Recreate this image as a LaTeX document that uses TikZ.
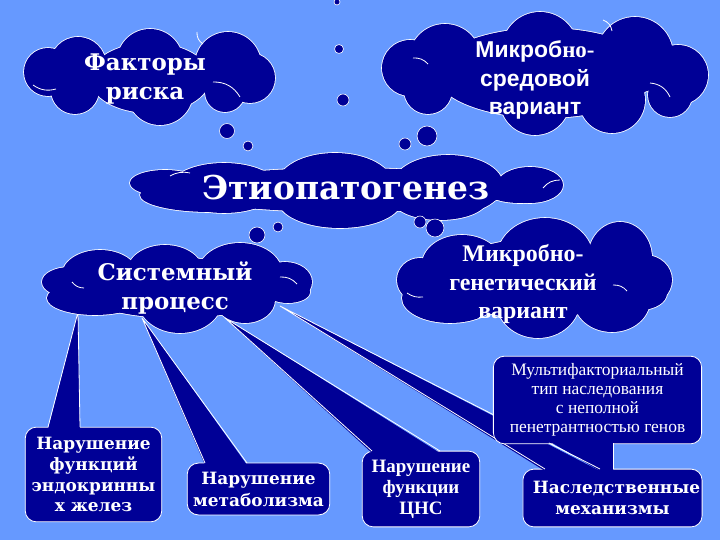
\documentclass[tikz,border=0pt]{standalone}
\usepackage{fontspec}
\setmainfont{Liberation Serif}
\setsansfont{Liberation Sans}
\newfontfamily\slab{DejaVu Serif}
\usetikzlibrary{calc}
\definecolor{bgblue}{RGB}{102,153,255}
\definecolor{navy}{RGB}{0,0,150}
% a cloud as a union of ellipses x/y/rx/ry
\newcommand\blob[1]{%
  \foreach \bx/\by/\ba/\bb in {#1} \draw[white, line width=1.6bp] (\bx,\by) ellipse [x radius=\ba, y radius=\bb];
  \foreach \bx/\by/\ba/\bb in {#1} \fill[navy] (\bx,\by) ellipse [x radius=\ba, y radius=\bb];}

\begin{document}
\begin{tikzpicture}[x=1bp, y=-1bp, line join=round,
  dot/.style={circle, fill=navy, draw=white, line width=0.6bp, inner sep=0pt, minimum size=#1},
  note/.style={fill=navy, draw=white, line width=0.8bp, rounded corners=11bp, inner sep=2bp, text=white, align=center},
  lbl/.style={text=white, align=center},
  edge/.style={white, line width=0.8bp}]
\fill[bgblue] (0,0) rectangle (720,540);
\useasboundingbox (0,0) rectangle (720,540);

% boxes
\node[note, minimum width=137, minimum height=95, font=\slab\bfseries\fontsize{17}{21}\selectfont] (endo) at (93.5,474.5) {Нарушение\\функций\\эндокринны\\х желез};
\node[note, minimum width=143, minimum height=52, font=\slab\bfseries\fontsize{17}{22}\selectfont] (metab) at (258.5,489) {Нарушение\\метаболизма};
\node[note, minimum width=118, minimum height=76, font=\bfseries\fontsize{19}{21}\selectfont] (cns) at (421,489) {Нарушение\\функции\\ЦНС};
\node[note, minimum width=179, minimum height=58, font=\slab\bfseries\fontsize{17}{21}\selectfont] (hered) at (612.5,498) {\hspace*{8bp}Наследственные\\механизмы};

% wedges
\coordinate (t1) at (78,312);  \coordinate (a1) at (48,427);  \coordinate (b1) at (80,427);
\coordinate (t2) at (142,318); \coordinate (a2) at (205,463); \coordinate (b2) at (247,463);
\coordinate (t3) at (225,318); \coordinate (a3) at (372,451); \coordinate (b3) at (440,451);
\coordinate (t4) at (280,306); \coordinate (a4) at (545,469); \coordinate (b4) at (600,469);
\foreach \i in {1,...,4}{
  \fill[navy] (t\i) -- ($(a\i)+(0,2)$) -- ($(b\i)+(0,2)$) -- cycle;
  \draw[edge] (a\i) -- (t\i) -- (b\i);
}

% callout
\node[note, minimum width=209, minimum height=88, font=\fontsize{17.5}{19}\selectfont] (multi) at (597.5,400) {Мультифакториальный\\тип наследования\\с неполной\\пенетрантностью генов};
\coordinate (p1) at ($(t4)!0.84!(b4)$);
\coordinate (p2) at (613,469);
\fill[navy] ($(p1)+(0,-2)$) -- (613,441) -- ($(p2)+(0,2)$) -- ($(b4)+(0,2)$) -- cycle;
\draw[edge] (p1) -- (b4);
\draw[edge] (613,443) -- (p2);

% clouds
\blob{78/65/28/28, 150/62/33/33, 228/65/33/33, 250/78/25/25, 225/92/20/20,
      160/92/33/33, 75/90/24/24, 48/72/24/24, 150/78/60/35}
\blob{445/60/36/36, 540/50/38/38, 635/55/38/38, 678/75/30/30, 670/95/22/22,
      612/100/33/33, 535/100/35/35, 428/90/24/24, 410/68/28/28, 545/73/110/45}
\blob{224/188/54/25, 335/185/58/32, 448/185/55/30, 530/185/33/18, 520/192/33/11,
      440/200/47/20, 340/200/62/28, 210/195/70/17, 165/183/35/13, 345/190/170/22}
\blob{100/275/38/25, 165/272/38/27, 240/273/42/30, 285/282/27/20, 288/292/22/11,
      245/300/30/23, 180/300/42/33, 95/298/48/17, 70/282/28/15, 177/288/100/30}
\blob{462/265/40/30, 545/258/48/40, 620/258/32/36, 645/280/27/25, 640/293/27/17,
      612/300/38/32, 538/300/42/38, 450/298/48/25, 420/280/23/22, 535/279/90/40}

% inner folds of the clouds
\draw[edge] (33,85) to[bend right=25] (56,89);
\draw[edge] (213,82) to[bend left=30] (240,97);
\draw[edge] (197,32) to[bend right=30] (203,44);
\draw[edge] (413,58) to[bend left=25] (428,64);
\draw[edge] (650,83) to[bend left=30] (670,97);
\draw[edge] (603,20) to[bend left=30] (612,31);
\draw[edge] (170,176) to[bend left=20] (190,173);
\draw[edge] (543,188) to[bend left=25] (560,180);
\draw[edge] (72,282) to[bend right=25] (84,288);
\draw[edge] (280,277) to[bend left=25] (297,284);
\draw[edge] (407,293) to[bend right=20] (423,297);
\draw[edge] (613,285) to[bend left=25] (627,291);

% bubbles
\node[dot=6]  (d1)  at (337,2) {};
\node[dot=9]  (d2)  at (339,49) {};
\node[dot=12] (d3)  at (343,100) {};
\node[dot=15] (d4)  at (227,131) {};
\node[dot=10] (d5)  at (248,146) {};
\node[dot=12] (d6)  at (405,144) {};
\node[dot=20] (d7)  at (427,136) {};
\node[dot=16] (d8)  at (257,235) {};
\node[dot=10] (d9)  at (278,227) {};
\node[dot=12] (d10) at (420,222) {};
\node[dot=18] (d11) at (435,228) {};

% texts
\node[lbl, font=\slab\bfseries\fontsize{23}{29}\selectfont] (risk) at (145,79) {Факторы\\риска};
\node[lbl, font=\sffamily\bfseries\fontsize{23}{29}\selectfont] (env) at (535,80) {Микроб{\rmfamily но-}\\средовой\\вариант};
\node[lbl, font=\slab\bfseries\fontsize{33}{36}\selectfont] (etio) at (346,188) {Этиопатогенез};
\node[lbl, font=\slab\bfseries\fontsize{23}{29}\selectfont] (sys) at (175,288) {Системный\\процесс};
\node[lbl, font=\bfseries\fontsize{24}{29}\selectfont] (gen) at (523,284) {Микробно-\\генетический\\вариант};
\end{tikzpicture}
\end{document}
